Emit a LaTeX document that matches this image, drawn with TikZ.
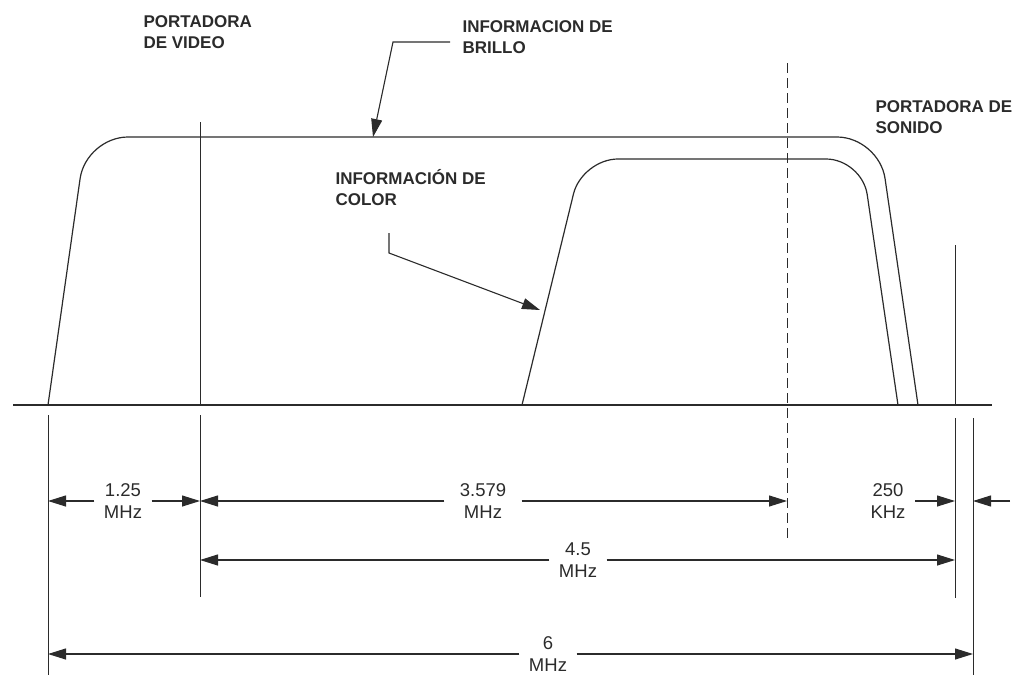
\documentclass[tikz,border=0pt]{standalone}
\usepackage{fontspec}
\setmainfont{Liberation Sans}
\usetikzlibrary{arrows.meta,positioning}
\definecolor{ink}{HTML}{2B2B2B}

\begin{document}
\begin{tikzpicture}[x=1pt, y=-1pt, color=ink, line width=1.1pt,
    lbl/.style={anchor=base west, align=left, inner sep=0pt,
                font=\fontsize{17}{20.5}\selectfont\bfseries},
    dimtxt/.style={align=center, inner xsep=9pt, inner ysep=0pt,
                   font=\fontsize{18.5}{22}\selectfont},
    dim/.style={-{Triangle[length=18pt,width=11pt]}},
    guide/.style={line width=1pt},
    curve/.style={line width=1.2pt}]
  \useasboundingbox (0,0) rectangle (1013,675);

  % eje y espectros
  \draw[line width=1.4pt] (13,405) -- (992,405);
  \draw[curve, rounded corners=42pt] (48,405) -- (86,137) -- (879,137) -- (918,405);
  \draw[curve, rounded corners=36pt] (522,405) -- (582,159) -- (862,159) -- (898,405);

  % lineas de referencia
  \coordinate (xA) at (48,415);
  \coordinate (xV) at (200,415);
  \coordinate (xC) at (787,63);
  \coordinate (xS) at (955,418);
  \coordinate (xB) at (973,418);
  \draw[guide] (xA) -- (48,675);
  \draw[guide] (200,122) -- (200,405) (xV) -- (200,597);
  \draw[guide, dash pattern=on 10pt off 5pt] (xC) -- (787,542);
  \draw[guide] (955,245) -- (955,405) (xS) -- (955,598);
  \draw[guide] (xB) -- (973,675);

  % rotulos (base = ultima linea)
  \node[lbl] (vid) at (143,48) {PORTADORA\\DE VIDEO};
  \node[lbl] (brillo) at (462,53) {INFORMACION DE\\BRILLO};
  \node[lbl] (sonido) at (875,133) {PORTADORA DE\\SONIDO};
  \node[lbl] (color) at (335,205) {INFORMACIÓN DE\\COLOR};

  \coordinate (kb) at (393,42);
  \coordinate (brilloTip) at (373,137);
  \draw[dim] (450,42) -- (kb) -- (brilloTip);
  \coordinate (kc) at (389,253);
  \coordinate (colorTip) at (540,310);
  \draw[dim] (389,233) -- (kc) -- (colorTip);

  % cotas
  \node[dimtxt] (f125) at (123,501) {1.25\\MHz};
  \draw[dim] (f125.west) -- (f125.west -| xA);
  \draw[dim] (f125.east) -- (f125.east -| xV);
  \node[dimtxt, inner xsep=15pt] (f3579) at (483,501) {3.579\\MHz};
  \draw[dim] (f3579.west) -- (f3579.west -| xV);
  \draw[dim] (f3579.east) -- (f3579.east -| xC);
  \node[dimtxt] (f250) at (888,501) {250\\KHz};
  \draw[dim] (f250.east) -- (f250.east -| xS);
  \coordinate (r250) at (1010,501);
  \draw[dim] (r250) -- (r250 -| xB);
  \node[dimtxt] (f45) at (578,560) {4.5\\MHz};
  \draw[dim] (f45.west) -- (f45.west -| xV);
  \draw[dim] (f45.east) -- (f45.east -| xS);
  \node[dimtxt] (f6) at (548,654) {6\\MHz};
  \draw[dim] (f6.west) -- (f6.west -| xA);
  \draw[dim] (f6.east) -- (f6.east -| xB);
\end{tikzpicture}
\end{document}
